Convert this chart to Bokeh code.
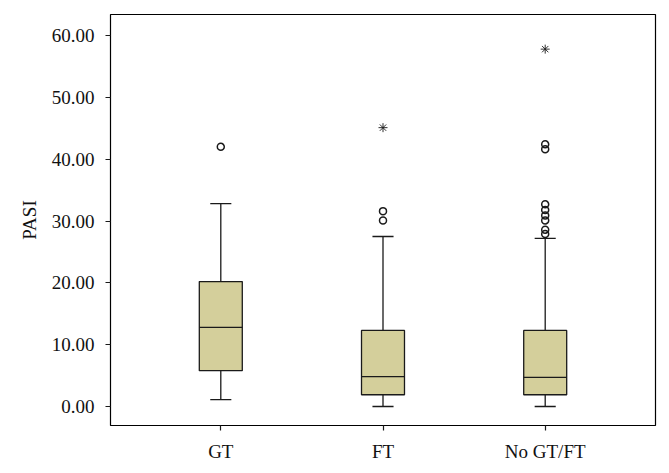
from bokeh.plotting import figure
from bokeh.models import Range1d, FixedTicker
from bokeh.embed import file_html
from bokeh.resources import INLINE

categories = ["GT", "FT", "No GT/FT"]
q1 = [5.8, 1.9, 1.9]
median = [12.8, 4.85, 4.7]
q3 = [20.2, 12.3, 12.3]
whisk_low = [1.1, 0.0, 0.0]
whisk_high = [32.8, 27.5, 27.2]
outliers = [[42.0], [31.6, 30.1], [42.4, 41.6, 32.7, 31.8, 30.9, 30.1, 28.6, 27.9]]
extremes = [[], [45.1], [57.8]]
y_ticks = [0, 10, 20, 30, 40, 50, 60]

FONT = "Liberation Serif"
BOX_W = 0.265
CAP_W = 0.13
FILL = "#D4CF9B"
LINE = "#1a1a1a"

xs = [i + 1 for i in range(len(categories))]

p = figure(width=661, height=465, output_backend="svg", toolbar_location=None,
           x_range=Range1d(0.32, 3.68), y_range=Range1d(-3.07, 63.4),
           min_border_left=110, min_border_top=14, min_border_right=6, min_border_bottom=40)

p.background_fill_color = "white"
p.border_fill_color = "white"
p.outline_line_color = "black"
p.outline_line_width = 1.2
p.xgrid.visible = False
p.ygrid.visible = False

# whisker stems
p.segment(x0=xs, y0=q3, x1=xs, y1=whisk_high, line_color=LINE, line_width=1.3)
p.segment(x0=xs, y0=whisk_low, x1=xs, y1=q1, line_color=LINE, line_width=1.3)
# caps
p.segment(x0=[x - CAP_W / 2 for x in xs], y0=whisk_high, x1=[x + CAP_W / 2 for x in xs], y1=whisk_high,
          line_color=LINE, line_width=1.3)
p.segment(x0=[x - CAP_W / 2 for x in xs], y0=whisk_low, x1=[x + CAP_W / 2 for x in xs], y1=whisk_low,
          line_color=LINE, line_width=1.3)
# boxes
p.vbar(x=xs, width=BOX_W, bottom=q1, top=q3, fill_color=FILL, line_color=LINE, line_width=1.3)
# medians
p.segment(x0=[x - BOX_W / 2 for x in xs], y0=median, x1=[x + BOX_W / 2 for x in xs], y1=median,
          line_color=LINE, line_width=1.3)

# outliers
ox, oy = [], []
for x, vals in zip(xs, outliers):
    for v in vals:
        ox.append(x)
        oy.append(v)
p.scatter(ox, oy, marker="circle", size=7, fill_color=None, line_color=LINE, line_width=1.5)

ex, ey = [], []
for x, vals in zip(xs, extremes):
    for v in vals:
        ex.append(x)
        ey.append(v)
p.scatter(ex, ey, marker="asterisk", size=9, line_color=LINE, line_width=0.9)

# axes
p.xaxis.ticker = FixedTicker(ticks=xs)
p.xaxis.major_label_overrides = {x: c for x, c in zip(xs, categories)}
p.yaxis.ticker = FixedTicker(ticks=y_ticks)
p.yaxis.major_label_overrides = {t: f"{t:.2f}" for t in y_ticks}
p.yaxis.axis_label = "PASI"

for ax in (p.xaxis[0], p.yaxis[0]):
    ax.axis_line_color = None
    ax.major_tick_line_color = LINE
    ax.major_tick_line_width = 1.2
    ax.major_tick_out = 5
    ax.major_tick_in = 0
    ax.minor_tick_line_color = None
    ax.major_label_text_font = FONT
    ax.major_label_text_font_size = "19px"
    ax.major_label_text_color = "#111111"
    ax.axis_label_text_font = FONT
    ax.axis_label_text_font_size = "19px"
    ax.axis_label_text_font_style = "normal"
    ax.axis_label_text_color = "#111111"

p.xaxis.major_label_standoff = 10
p.yaxis.major_label_standoff = 11
p.yaxis.axis_label_standoff = 9

open("out.html", "w").write(file_html(p, INLINE))
